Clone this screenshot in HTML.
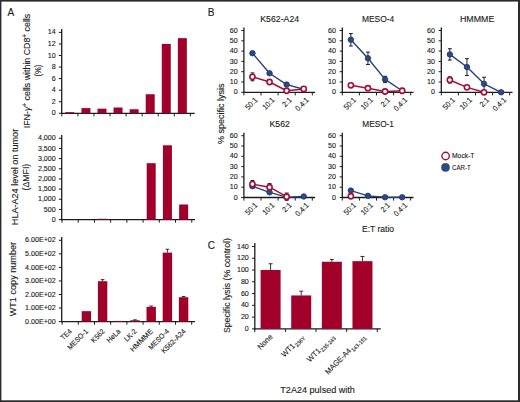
<!DOCTYPE html>
<html><head><meta charset="utf-8"><style>
html,body{margin:0;padding:0;background:#fff;overflow:hidden;}
svg{display:block;}
text{font-family:"Liberation Sans", sans-serif;fill:#1a1a1a;stroke:#1a1a1a;stroke-width:0.12px;}
</style></head><body>
<svg width="520" height="402" viewBox="0 0 520 402">
<rect x="0" y="0" width="520" height="402" fill="#fff"/>
<text transform="translate(7.6,16.1) scale(0.9,1)" font-size="11.2" text-anchor="start">A</text>
<line x1="61.7" y1="29" x2="61.7" y2="113.9" stroke="#1c1c1c" stroke-width="1.3"/>
<line x1="61.1" y1="113.3" x2="194.7" y2="113.3" stroke="#1c1c1c" stroke-width="1.3"/>
<line x1="58.8" y1="113.3" x2="61.7" y2="113.3" stroke="#1c1c1c" stroke-width="1.0"/>
<text transform="translate(55.7,115.4)" font-size="7.1" text-anchor="end">0</text>
<line x1="58.8" y1="101.74" x2="61.7" y2="101.74" stroke="#1c1c1c" stroke-width="1.0"/>
<text transform="translate(55.7,103.84)" font-size="7.1" text-anchor="end">2</text>
<line x1="58.8" y1="90.18" x2="61.7" y2="90.18" stroke="#1c1c1c" stroke-width="1.0"/>
<text transform="translate(55.7,92.28)" font-size="7.1" text-anchor="end">4</text>
<line x1="58.8" y1="78.62" x2="61.7" y2="78.62" stroke="#1c1c1c" stroke-width="1.0"/>
<text transform="translate(55.7,80.72)" font-size="7.1" text-anchor="end">6</text>
<line x1="58.8" y1="67.06" x2="61.7" y2="67.06" stroke="#1c1c1c" stroke-width="1.0"/>
<text transform="translate(55.7,69.16)" font-size="7.1" text-anchor="end">8</text>
<line x1="58.8" y1="55.5" x2="61.7" y2="55.5" stroke="#1c1c1c" stroke-width="1.0"/>
<text transform="translate(55.7,57.6)" font-size="7.1" text-anchor="end">10</text>
<line x1="58.8" y1="43.94" x2="61.7" y2="43.94" stroke="#1c1c1c" stroke-width="1.0"/>
<text transform="translate(55.7,46.04)" font-size="7.1" text-anchor="end">12</text>
<line x1="58.8" y1="32.38" x2="61.7" y2="32.38" stroke="#1c1c1c" stroke-width="1.0"/>
<text transform="translate(55.7,34.48)" font-size="7.1" text-anchor="end">14</text>
<line x1="61.81" y1="113.3" x2="61.81" y2="116.4" stroke="#1c1c1c" stroke-width="1.0"/>
<line x1="77.88" y1="113.3" x2="77.88" y2="116.4" stroke="#1c1c1c" stroke-width="1.0"/>
<line x1="93.95" y1="113.3" x2="93.95" y2="116.4" stroke="#1c1c1c" stroke-width="1.0"/>
<line x1="110.03" y1="113.3" x2="110.03" y2="116.4" stroke="#1c1c1c" stroke-width="1.0"/>
<line x1="126.09" y1="113.3" x2="126.09" y2="116.4" stroke="#1c1c1c" stroke-width="1.0"/>
<line x1="142.16" y1="113.3" x2="142.16" y2="116.4" stroke="#1c1c1c" stroke-width="1.0"/>
<line x1="158.24" y1="113.3" x2="158.24" y2="116.4" stroke="#1c1c1c" stroke-width="1.0"/>
<line x1="174.31" y1="113.3" x2="174.31" y2="116.4" stroke="#1c1c1c" stroke-width="1.0"/>
<line x1="190.38" y1="113.3" x2="190.38" y2="116.4" stroke="#1c1c1c" stroke-width="1.0"/>
<rect x="65.35" y="112.14" width="9" height="1.16" fill="#A1002B"/>
<rect x="81.42" y="108.1" width="9" height="5.2" fill="#A1002B"/>
<rect x="97.49" y="108.68" width="9" height="4.62" fill="#A1002B"/>
<rect x="113.56" y="107.52" width="9" height="5.78" fill="#A1002B"/>
<rect x="129.63" y="109.25" width="9" height="4.05" fill="#A1002B"/>
<rect x="145.7" y="94.23" width="9" height="19.07" fill="#A1002B"/>
<rect x="161.77" y="43.94" width="9" height="69.36" fill="#A1002B"/>
<rect x="177.84" y="38.16" width="9" height="75.14" fill="#A1002B"/>
<line x1="61.7" y1="135" x2="61.7" y2="220.2" stroke="#1c1c1c" stroke-width="1.3"/>
<line x1="61.1" y1="219.6" x2="195" y2="219.6" stroke="#1c1c1c" stroke-width="1.3"/>
<line x1="58.8" y1="219.6" x2="61.7" y2="219.6" stroke="#1c1c1c" stroke-width="1.0"/>
<text transform="translate(55.7,221.7)" font-size="7.1" text-anchor="end">0</text>
<line x1="58.8" y1="209.44" x2="61.7" y2="209.44" stroke="#1c1c1c" stroke-width="1.0"/>
<text transform="translate(55.7,211.53)" font-size="7.1" text-anchor="end">500</text>
<line x1="58.8" y1="199.27" x2="61.7" y2="199.27" stroke="#1c1c1c" stroke-width="1.0"/>
<text transform="translate(55.7,201.37)" font-size="7.1" text-anchor="end">1,000</text>
<line x1="58.8" y1="189.1" x2="61.7" y2="189.1" stroke="#1c1c1c" stroke-width="1.0"/>
<text transform="translate(55.7,191.2)" font-size="7.1" text-anchor="end">1,500</text>
<line x1="58.8" y1="178.94" x2="61.7" y2="178.94" stroke="#1c1c1c" stroke-width="1.0"/>
<text transform="translate(55.7,181.04)" font-size="7.1" text-anchor="end">2,000</text>
<line x1="58.8" y1="168.77" x2="61.7" y2="168.77" stroke="#1c1c1c" stroke-width="1.0"/>
<text transform="translate(55.7,170.87)" font-size="7.1" text-anchor="end">2,500</text>
<line x1="58.8" y1="158.61" x2="61.7" y2="158.61" stroke="#1c1c1c" stroke-width="1.0"/>
<text transform="translate(55.7,160.71)" font-size="7.1" text-anchor="end">3,000</text>
<line x1="58.8" y1="148.44" x2="61.7" y2="148.44" stroke="#1c1c1c" stroke-width="1.0"/>
<text transform="translate(55.7,150.54)" font-size="7.1" text-anchor="end">3,500</text>
<line x1="58.8" y1="138.28" x2="61.7" y2="138.28" stroke="#1c1c1c" stroke-width="1.0"/>
<text transform="translate(55.7,140.38)" font-size="7.1" text-anchor="end">4,000</text>
<line x1="61.99" y1="219.6" x2="61.99" y2="222.7" stroke="#1c1c1c" stroke-width="1.0"/>
<line x1="78.21" y1="219.6" x2="78.21" y2="222.7" stroke="#1c1c1c" stroke-width="1.0"/>
<line x1="94.43" y1="219.6" x2="94.43" y2="222.7" stroke="#1c1c1c" stroke-width="1.0"/>
<line x1="110.65" y1="219.6" x2="110.65" y2="222.7" stroke="#1c1c1c" stroke-width="1.0"/>
<line x1="126.87" y1="219.6" x2="126.87" y2="222.7" stroke="#1c1c1c" stroke-width="1.0"/>
<line x1="143.09" y1="219.6" x2="143.09" y2="222.7" stroke="#1c1c1c" stroke-width="1.0"/>
<line x1="159.31" y1="219.6" x2="159.31" y2="222.7" stroke="#1c1c1c" stroke-width="1.0"/>
<line x1="175.53" y1="219.6" x2="175.53" y2="222.7" stroke="#1c1c1c" stroke-width="1.0"/>
<line x1="191.75" y1="219.6" x2="191.75" y2="222.7" stroke="#1c1c1c" stroke-width="1.0"/>
<rect x="98.04" y="218.79" width="9" height="0.81" fill="#A1002B"/>
<rect x="146.7" y="163.2" width="9" height="56.4" fill="#A1002B"/>
<rect x="162.92" y="145.29" width="9" height="74.31" fill="#A1002B"/>
<rect x="179.14" y="204.49" width="9" height="15.11" fill="#A1002B"/>
<line x1="61.7" y1="237" x2="61.7" y2="322.2" stroke="#1c1c1c" stroke-width="1.3"/>
<line x1="61.1" y1="321.6" x2="195" y2="321.6" stroke="#1c1c1c" stroke-width="1.3"/>
<line x1="58.8" y1="321.6" x2="61.7" y2="321.6" stroke="#1c1c1c" stroke-width="1.0"/>
<text transform="translate(55.7,323.7)" font-size="7.1" text-anchor="end">0.00E+00</text>
<line x1="58.8" y1="308.05" x2="61.7" y2="308.05" stroke="#1c1c1c" stroke-width="1.0"/>
<text transform="translate(55.7,310.15)" font-size="7.1" text-anchor="end">1.00E+02</text>
<line x1="58.8" y1="294.5" x2="61.7" y2="294.5" stroke="#1c1c1c" stroke-width="1.0"/>
<text transform="translate(55.7,296.6)" font-size="7.1" text-anchor="end">2.00E+02</text>
<line x1="58.8" y1="280.95" x2="61.7" y2="280.95" stroke="#1c1c1c" stroke-width="1.0"/>
<text transform="translate(55.7,283.05)" font-size="7.1" text-anchor="end">3.00E+02</text>
<line x1="58.8" y1="267.4" x2="61.7" y2="267.4" stroke="#1c1c1c" stroke-width="1.0"/>
<text transform="translate(55.7,269.5)" font-size="7.1" text-anchor="end">4.00E+02</text>
<line x1="58.8" y1="253.85" x2="61.7" y2="253.85" stroke="#1c1c1c" stroke-width="1.0"/>
<text transform="translate(55.7,255.95)" font-size="7.1" text-anchor="end">5.00E+02</text>
<line x1="58.8" y1="240.3" x2="61.7" y2="240.3" stroke="#1c1c1c" stroke-width="1.0"/>
<text transform="translate(55.7,242.4)" font-size="7.1" text-anchor="end">6.00E+02</text>
<line x1="62.1" y1="321.6" x2="62.1" y2="324.7" stroke="#1c1c1c" stroke-width="1.0"/>
<line x1="78.3" y1="321.6" x2="78.3" y2="324.7" stroke="#1c1c1c" stroke-width="1.0"/>
<line x1="94.5" y1="321.6" x2="94.5" y2="324.7" stroke="#1c1c1c" stroke-width="1.0"/>
<line x1="110.7" y1="321.6" x2="110.7" y2="324.7" stroke="#1c1c1c" stroke-width="1.0"/>
<line x1="126.9" y1="321.6" x2="126.9" y2="324.7" stroke="#1c1c1c" stroke-width="1.0"/>
<line x1="143.1" y1="321.6" x2="143.1" y2="324.7" stroke="#1c1c1c" stroke-width="1.0"/>
<line x1="159.3" y1="321.6" x2="159.3" y2="324.7" stroke="#1c1c1c" stroke-width="1.0"/>
<line x1="175.5" y1="321.6" x2="175.5" y2="324.7" stroke="#1c1c1c" stroke-width="1.0"/>
<line x1="191.7" y1="321.6" x2="191.7" y2="324.7" stroke="#1c1c1c" stroke-width="1.0"/>
<rect x="81.7" y="311.17" width="9.4" height="10.43" fill="#A1002B"/>
<rect x="97.9" y="281.22" width="9.4" height="40.38" fill="#A1002B"/>
<line x1="102.6" y1="281.22" x2="102.6" y2="279.6" stroke="#1c1c1c" stroke-width="0.9"/>
<line x1="100.8" y1="279.6" x2="104.4" y2="279.6" stroke="#1c1c1c" stroke-width="0.9"/>
<rect x="114.1" y="320.92" width="9.4" height="0.68" fill="#A1002B"/>
<rect x="130.3" y="320.25" width="9.4" height="1.35" fill="#A1002B"/>
<line x1="135" y1="320.25" x2="135" y2="319.84" stroke="#1c1c1c" stroke-width="0.9"/>
<line x1="133.2" y1="319.84" x2="136.8" y2="319.84" stroke="#1c1c1c" stroke-width="0.9"/>
<rect x="146.5" y="306.83" width="9.4" height="14.77" fill="#A1002B"/>
<line x1="151.2" y1="306.83" x2="151.2" y2="306.02" stroke="#1c1c1c" stroke-width="0.9"/>
<line x1="149.4" y1="306.02" x2="153" y2="306.02" stroke="#1c1c1c" stroke-width="0.9"/>
<rect x="162.7" y="252.63" width="9.4" height="68.97" fill="#A1002B"/>
<line x1="167.4" y1="252.63" x2="167.4" y2="249.24" stroke="#1c1c1c" stroke-width="0.9"/>
<line x1="165.6" y1="249.24" x2="169.2" y2="249.24" stroke="#1c1c1c" stroke-width="0.9"/>
<rect x="178.9" y="297.21" width="9.4" height="24.39" fill="#A1002B"/>
<line x1="183.6" y1="297.21" x2="183.6" y2="296.53" stroke="#1c1c1c" stroke-width="0.9"/>
<line x1="181.8" y1="296.53" x2="185.4" y2="296.53" stroke="#1c1c1c" stroke-width="0.9"/>
<text transform="translate(30.3,71) rotate(-90)" font-size="8.7" text-anchor="middle" textLength="114.5" lengthAdjust="spacingAndGlyphs">IFN-<tspan font-style="italic">γ</tspan><tspan dy="-3.2" font-size="6.3">+</tspan><tspan dy="3.2"> cells within CD8</tspan><tspan dy="-3.2" font-size="6.3">+</tspan><tspan dy="3.2"> cells</tspan></text>
<text transform="translate(40.8,70.7) rotate(-90)" font-size="8.4" text-anchor="middle" textLength="11.8" lengthAdjust="spacingAndGlyphs">(%)</text>
<text transform="translate(18,177) rotate(-90)" font-size="8.7" text-anchor="middle" textLength="96.3" lengthAdjust="spacingAndGlyphs">HLA-A24 level on tumor</text>
<text transform="translate(29.4,177.1) rotate(-90)" font-size="8.3" text-anchor="middle" textLength="26.6" lengthAdjust="spacingAndGlyphs">(ΔMFI)</text>
<text transform="translate(15.6,279.1) rotate(-90)" font-size="8.7" text-anchor="middle" textLength="74.4" lengthAdjust="spacingAndGlyphs">WT1 copy number</text>
<text transform="translate(72.4,331.8) rotate(-45) scale(0.93,1)" font-size="7.3" text-anchor="end">TE4</text>
<text transform="translate(88.6,331.8) rotate(-45) scale(0.93,1)" font-size="7.3" text-anchor="end">MESO-1</text>
<text transform="translate(105.3,331.8) rotate(-45) scale(0.95,1)" font-size="7.3" text-anchor="end">K562</text>
<text transform="translate(121,331.8) rotate(-45) scale(0.93,1)" font-size="7.3" text-anchor="end">HeLa</text>
<text transform="translate(137.2,331.8) rotate(-45) scale(0.93,1)" font-size="7.3" text-anchor="end">LK-2</text>
<text transform="translate(153.4,331.8) rotate(-45) scale(1.02,1)" font-size="7.3" text-anchor="end">HMMME</text>
<text transform="translate(169.6,331.8) rotate(-45) scale(0.93,1)" font-size="7.3" text-anchor="end">MESO-4</text>
<text transform="translate(186.3,331.8) rotate(-45) scale(0.96,1)" font-size="7.3" text-anchor="end">K562-A24</text>
<text transform="translate(207.8,16.2) scale(0.9,1)" font-size="11.2" text-anchor="start">B</text>
<line x1="243.9" y1="27.6" x2="243.9" y2="92.9" stroke="#1c1c1c" stroke-width="1.3"/>
<line x1="243.3" y1="92.3" x2="315.1" y2="92.3" stroke="#1c1c1c" stroke-width="1.3"/>
<line x1="241.3" y1="92.3" x2="243.9" y2="92.3" stroke="#1c1c1c" stroke-width="1.0"/>
<text transform="translate(237.6,94.4)" font-size="7.1" text-anchor="end">0</text>
<line x1="241.3" y1="82" x2="243.9" y2="82" stroke="#1c1c1c" stroke-width="1.0"/>
<text transform="translate(237.6,84.1)" font-size="7.1" text-anchor="end">10</text>
<line x1="241.3" y1="71.7" x2="243.9" y2="71.7" stroke="#1c1c1c" stroke-width="1.0"/>
<text transform="translate(237.6,73.8)" font-size="7.1" text-anchor="end">20</text>
<line x1="241.3" y1="61.4" x2="243.9" y2="61.4" stroke="#1c1c1c" stroke-width="1.0"/>
<text transform="translate(237.6,63.5)" font-size="7.1" text-anchor="end">30</text>
<line x1="241.3" y1="51.1" x2="243.9" y2="51.1" stroke="#1c1c1c" stroke-width="1.0"/>
<text transform="translate(237.6,53.2)" font-size="7.1" text-anchor="end">40</text>
<line x1="241.3" y1="40.8" x2="243.9" y2="40.8" stroke="#1c1c1c" stroke-width="1.0"/>
<text transform="translate(237.6,42.9)" font-size="7.1" text-anchor="end">50</text>
<line x1="241.3" y1="30.5" x2="243.9" y2="30.5" stroke="#1c1c1c" stroke-width="1.0"/>
<text transform="translate(237.6,32.6)" font-size="7.1" text-anchor="end">60</text>
<line x1="243.9" y1="92.3" x2="243.9" y2="95.4" stroke="#1c1c1c" stroke-width="1.0"/>
<line x1="261" y1="92.3" x2="261" y2="95.4" stroke="#1c1c1c" stroke-width="1.0"/>
<line x1="278.1" y1="92.3" x2="278.1" y2="95.4" stroke="#1c1c1c" stroke-width="1.0"/>
<line x1="295.2" y1="92.3" x2="295.2" y2="95.4" stroke="#1c1c1c" stroke-width="1.0"/>
<line x1="312.3" y1="92.3" x2="312.3" y2="95.4" stroke="#1c1c1c" stroke-width="1.0"/>
<text transform="translate(279.7,21.8)" font-size="8.9" text-anchor="middle" textLength="38.9" lengthAdjust="spacingAndGlyphs">K562-A24</text>
<text transform="translate(258.05,100.5) rotate(-45) scale(0.93,1)" font-size="7.6" text-anchor="end">50:1</text>
<text transform="translate(275.15,100.5) rotate(-45) scale(0.93,1)" font-size="7.6" text-anchor="end">10:1</text>
<text transform="translate(292.25,100.5) rotate(-45) scale(0.93,1)" font-size="7.6" text-anchor="end">2:1</text>
<text transform="translate(309.35,100.5) rotate(-45) scale(0.93,1)" font-size="7.6" text-anchor="end">0.4:1</text>
<line x1="252.45" y1="51.61" x2="252.45" y2="54.7" stroke="#222" stroke-width="1.0"/>
<line x1="250.55" y1="51.61" x2="254.35" y2="51.61" stroke="#222" stroke-width="1.1"/>
<line x1="250.55" y1="54.7" x2="254.35" y2="54.7" stroke="#222" stroke-width="1.1"/>
<line x1="269.55" y1="72.01" x2="269.55" y2="74.48" stroke="#222" stroke-width="1.0"/>
<line x1="267.65" y1="72.01" x2="271.45" y2="72.01" stroke="#222" stroke-width="1.1"/>
<line x1="267.65" y1="74.48" x2="271.45" y2="74.48" stroke="#222" stroke-width="1.1"/>
<line x1="286.65" y1="83.55" x2="286.65" y2="85.61" stroke="#222" stroke-width="1.0"/>
<line x1="284.75" y1="83.55" x2="288.55" y2="83.55" stroke="#222" stroke-width="1.1"/>
<line x1="284.75" y1="85.61" x2="288.55" y2="85.61" stroke="#222" stroke-width="1.1"/>
<line x1="252.45" y1="72.94" x2="252.45" y2="80.76" stroke="#222" stroke-width="1.0"/>
<line x1="250.55" y1="72.94" x2="254.35" y2="72.94" stroke="#222" stroke-width="1.1"/>
<line x1="250.55" y1="80.76" x2="254.35" y2="80.76" stroke="#222" stroke-width="1.1"/>
<polyline points="252.45,53.16 269.55,73.25 286.65,84.58 303.75,89.21" fill="none" stroke="#23427F" stroke-width="1.4" stroke-linejoin="round"/>
<circle cx="252.45" cy="53.16" r="2.75" fill="#2C4A82" stroke="#1B3670" stroke-width="0.8"/>
<circle cx="269.55" cy="73.25" r="2.75" fill="#2C4A82" stroke="#1B3670" stroke-width="0.8"/>
<circle cx="286.65" cy="84.58" r="2.75" fill="#2C4A82" stroke="#1B3670" stroke-width="0.8"/>
<circle cx="303.75" cy="89.21" r="2.75" fill="#2C4A82" stroke="#1B3670" stroke-width="0.8"/>
<polyline points="252.45,76.85 269.55,82 286.65,90.75 303.75,88.9" fill="none" stroke="#A80F38" stroke-width="1.5" stroke-linejoin="round"/>
<circle cx="252.45" cy="76.85" r="2.6" fill="#fff" stroke="#A80F38" stroke-width="1.6"/>
<circle cx="269.55" cy="82" r="2.6" fill="#fff" stroke="#A80F38" stroke-width="1.6"/>
<circle cx="286.65" cy="90.75" r="2.6" fill="#fff" stroke="#A80F38" stroke-width="1.6"/>
<circle cx="303.75" cy="88.9" r="2.6" fill="#fff" stroke="#A80F38" stroke-width="1.6"/>
<line x1="342.3" y1="27.6" x2="342.3" y2="92.9" stroke="#1c1c1c" stroke-width="1.3"/>
<line x1="341.7" y1="92.3" x2="413.5" y2="92.3" stroke="#1c1c1c" stroke-width="1.3"/>
<line x1="339.7" y1="92.3" x2="342.3" y2="92.3" stroke="#1c1c1c" stroke-width="1.0"/>
<text transform="translate(336,94.4)" font-size="7.1" text-anchor="end">0</text>
<line x1="339.7" y1="82" x2="342.3" y2="82" stroke="#1c1c1c" stroke-width="1.0"/>
<text transform="translate(336,84.1)" font-size="7.1" text-anchor="end">10</text>
<line x1="339.7" y1="71.7" x2="342.3" y2="71.7" stroke="#1c1c1c" stroke-width="1.0"/>
<text transform="translate(336,73.8)" font-size="7.1" text-anchor="end">20</text>
<line x1="339.7" y1="61.4" x2="342.3" y2="61.4" stroke="#1c1c1c" stroke-width="1.0"/>
<text transform="translate(336,63.5)" font-size="7.1" text-anchor="end">30</text>
<line x1="339.7" y1="51.1" x2="342.3" y2="51.1" stroke="#1c1c1c" stroke-width="1.0"/>
<text transform="translate(336,53.2)" font-size="7.1" text-anchor="end">40</text>
<line x1="339.7" y1="40.8" x2="342.3" y2="40.8" stroke="#1c1c1c" stroke-width="1.0"/>
<text transform="translate(336,42.9)" font-size="7.1" text-anchor="end">50</text>
<line x1="339.7" y1="30.5" x2="342.3" y2="30.5" stroke="#1c1c1c" stroke-width="1.0"/>
<text transform="translate(336,32.6)" font-size="7.1" text-anchor="end">60</text>
<line x1="342.3" y1="92.3" x2="342.3" y2="95.4" stroke="#1c1c1c" stroke-width="1.0"/>
<line x1="359.4" y1="92.3" x2="359.4" y2="95.4" stroke="#1c1c1c" stroke-width="1.0"/>
<line x1="376.5" y1="92.3" x2="376.5" y2="95.4" stroke="#1c1c1c" stroke-width="1.0"/>
<line x1="393.6" y1="92.3" x2="393.6" y2="95.4" stroke="#1c1c1c" stroke-width="1.0"/>
<line x1="410.7" y1="92.3" x2="410.7" y2="95.4" stroke="#1c1c1c" stroke-width="1.0"/>
<text transform="translate(378.1,21.8)" font-size="8.9" text-anchor="middle" textLength="32.4" lengthAdjust="spacingAndGlyphs">MESO-4</text>
<text transform="translate(356.45,100.5) rotate(-45) scale(0.93,1)" font-size="7.6" text-anchor="end">50:1</text>
<text transform="translate(373.55,100.5) rotate(-45) scale(0.93,1)" font-size="7.6" text-anchor="end">10:1</text>
<text transform="translate(390.65,100.5) rotate(-45) scale(0.93,1)" font-size="7.6" text-anchor="end">2:1</text>
<text transform="translate(407.75,100.5) rotate(-45) scale(0.93,1)" font-size="7.6" text-anchor="end">0.4:1</text>
<line x1="350.85" y1="33.59" x2="350.85" y2="45.95" stroke="#222" stroke-width="1.0"/>
<line x1="348.95" y1="33.59" x2="352.75" y2="33.59" stroke="#222" stroke-width="1.1"/>
<line x1="348.95" y1="45.95" x2="352.75" y2="45.95" stroke="#222" stroke-width="1.1"/>
<line x1="367.95" y1="52.13" x2="367.95" y2="64.49" stroke="#222" stroke-width="1.0"/>
<line x1="366.05" y1="52.13" x2="369.85" y2="52.13" stroke="#222" stroke-width="1.1"/>
<line x1="366.05" y1="64.49" x2="369.85" y2="64.49" stroke="#222" stroke-width="1.1"/>
<line x1="385.05" y1="76.33" x2="385.05" y2="82.52" stroke="#222" stroke-width="1.0"/>
<line x1="383.15" y1="76.33" x2="386.95" y2="76.33" stroke="#222" stroke-width="1.1"/>
<line x1="383.15" y1="82.52" x2="386.95" y2="82.52" stroke="#222" stroke-width="1.1"/>
<polyline points="350.85,39.77 367.95,58.31 385.05,79.42 402.15,90.75" fill="none" stroke="#23427F" stroke-width="1.4" stroke-linejoin="round"/>
<circle cx="350.85" cy="39.77" r="2.75" fill="#2C4A82" stroke="#1B3670" stroke-width="0.8"/>
<circle cx="367.95" cy="58.31" r="2.75" fill="#2C4A82" stroke="#1B3670" stroke-width="0.8"/>
<circle cx="385.05" cy="79.42" r="2.75" fill="#2C4A82" stroke="#1B3670" stroke-width="0.8"/>
<circle cx="402.15" cy="90.75" r="2.75" fill="#2C4A82" stroke="#1B3670" stroke-width="0.8"/>
<polyline points="350.85,85.3 367.95,88.18 385.05,91.48 402.15,90.75" fill="none" stroke="#A80F38" stroke-width="1.5" stroke-linejoin="round"/>
<circle cx="350.85" cy="85.3" r="2.6" fill="#fff" stroke="#A80F38" stroke-width="1.6"/>
<circle cx="367.95" cy="88.18" r="2.6" fill="#fff" stroke="#A80F38" stroke-width="1.6"/>
<circle cx="385.05" cy="91.48" r="2.6" fill="#fff" stroke="#A80F38" stroke-width="1.6"/>
<circle cx="402.15" cy="90.75" r="2.6" fill="#fff" stroke="#A80F38" stroke-width="1.6"/>
<line x1="441.3" y1="27.6" x2="441.3" y2="92.9" stroke="#1c1c1c" stroke-width="1.3"/>
<line x1="440.7" y1="92.3" x2="512.5" y2="92.3" stroke="#1c1c1c" stroke-width="1.3"/>
<line x1="438.7" y1="92.3" x2="441.3" y2="92.3" stroke="#1c1c1c" stroke-width="1.0"/>
<text transform="translate(435,94.4)" font-size="7.1" text-anchor="end">0</text>
<line x1="438.7" y1="82" x2="441.3" y2="82" stroke="#1c1c1c" stroke-width="1.0"/>
<text transform="translate(435,84.1)" font-size="7.1" text-anchor="end">10</text>
<line x1="438.7" y1="71.7" x2="441.3" y2="71.7" stroke="#1c1c1c" stroke-width="1.0"/>
<text transform="translate(435,73.8)" font-size="7.1" text-anchor="end">20</text>
<line x1="438.7" y1="61.4" x2="441.3" y2="61.4" stroke="#1c1c1c" stroke-width="1.0"/>
<text transform="translate(435,63.5)" font-size="7.1" text-anchor="end">30</text>
<line x1="438.7" y1="51.1" x2="441.3" y2="51.1" stroke="#1c1c1c" stroke-width="1.0"/>
<text transform="translate(435,53.2)" font-size="7.1" text-anchor="end">40</text>
<line x1="438.7" y1="40.8" x2="441.3" y2="40.8" stroke="#1c1c1c" stroke-width="1.0"/>
<text transform="translate(435,42.9)" font-size="7.1" text-anchor="end">50</text>
<line x1="438.7" y1="30.5" x2="441.3" y2="30.5" stroke="#1c1c1c" stroke-width="1.0"/>
<text transform="translate(435,32.6)" font-size="7.1" text-anchor="end">60</text>
<line x1="441.3" y1="92.3" x2="441.3" y2="95.4" stroke="#1c1c1c" stroke-width="1.0"/>
<line x1="458.4" y1="92.3" x2="458.4" y2="95.4" stroke="#1c1c1c" stroke-width="1.0"/>
<line x1="475.5" y1="92.3" x2="475.5" y2="95.4" stroke="#1c1c1c" stroke-width="1.0"/>
<line x1="492.6" y1="92.3" x2="492.6" y2="95.4" stroke="#1c1c1c" stroke-width="1.0"/>
<line x1="509.7" y1="92.3" x2="509.7" y2="95.4" stroke="#1c1c1c" stroke-width="1.0"/>
<text transform="translate(477.1,21.8)" font-size="8.9" text-anchor="middle" textLength="34.4" lengthAdjust="spacingAndGlyphs">HMMME</text>
<text transform="translate(455.45,100.5) rotate(-45) scale(0.93,1)" font-size="7.6" text-anchor="end">50:1</text>
<text transform="translate(472.55,100.5) rotate(-45) scale(0.93,1)" font-size="7.6" text-anchor="end">10:1</text>
<text transform="translate(489.65,100.5) rotate(-45) scale(0.93,1)" font-size="7.6" text-anchor="end">2:1</text>
<text transform="translate(506.75,100.5) rotate(-45) scale(0.93,1)" font-size="7.6" text-anchor="end">0.4:1</text>
<line x1="449.85" y1="48.73" x2="449.85" y2="60.06" stroke="#222" stroke-width="1.0"/>
<line x1="447.95" y1="48.73" x2="451.75" y2="48.73" stroke="#222" stroke-width="1.1"/>
<line x1="447.95" y1="60.06" x2="451.75" y2="60.06" stroke="#222" stroke-width="1.1"/>
<line x1="466.95" y1="58.62" x2="466.95" y2="75.51" stroke="#222" stroke-width="1.0"/>
<line x1="465.05" y1="58.62" x2="468.85" y2="58.62" stroke="#222" stroke-width="1.1"/>
<line x1="465.05" y1="75.51" x2="468.85" y2="75.51" stroke="#222" stroke-width="1.1"/>
<line x1="484.05" y1="77.26" x2="484.05" y2="90.45" stroke="#222" stroke-width="1.0"/>
<line x1="482.15" y1="77.26" x2="485.95" y2="77.26" stroke="#222" stroke-width="1.1"/>
<line x1="482.15" y1="90.45" x2="485.95" y2="90.45" stroke="#222" stroke-width="1.1"/>
<line x1="449.85" y1="76.85" x2="449.85" y2="83.03" stroke="#222" stroke-width="1.0"/>
<line x1="447.95" y1="76.85" x2="451.75" y2="76.85" stroke="#222" stroke-width="1.1"/>
<line x1="447.95" y1="83.03" x2="451.75" y2="83.03" stroke="#222" stroke-width="1.1"/>
<line x1="466.95" y1="85.3" x2="466.95" y2="89.42" stroke="#222" stroke-width="1.0"/>
<line x1="465.05" y1="85.3" x2="468.85" y2="85.3" stroke="#222" stroke-width="1.1"/>
<line x1="465.05" y1="89.42" x2="468.85" y2="89.42" stroke="#222" stroke-width="1.1"/>
<polyline points="449.85,79.94 466.95,87.36 484.05,92.3" fill="none" stroke="#A80F38" stroke-width="1.5" stroke-linejoin="round"/>
<circle cx="449.85" cy="79.94" r="2.6" fill="#fff" stroke="#A80F38" stroke-width="1.6"/>
<circle cx="466.95" cy="87.36" r="2.6" fill="#fff" stroke="#A80F38" stroke-width="1.6"/>
<circle cx="484.05" cy="92.3" r="2.6" fill="#fff" stroke="#A80F38" stroke-width="1.6"/>
<polyline points="449.85,54.4 466.95,67.06 484.05,83.85 501.15,92.3" fill="none" stroke="#23427F" stroke-width="1.4" stroke-linejoin="round"/>
<circle cx="449.85" cy="54.4" r="2.75" fill="#2C4A82" stroke="#1B3670" stroke-width="0.8"/>
<circle cx="466.95" cy="67.06" r="2.75" fill="#2C4A82" stroke="#1B3670" stroke-width="0.8"/>
<circle cx="484.05" cy="83.85" r="2.75" fill="#2C4A82" stroke="#1B3670" stroke-width="0.8"/>
<circle cx="501.15" cy="92.3" r="2.75" fill="#2C4A82" stroke="#1B3670" stroke-width="0.8"/>
<line x1="243.9" y1="132.8" x2="243.9" y2="198.1" stroke="#1c1c1c" stroke-width="1.3"/>
<line x1="243.3" y1="197.5" x2="315.1" y2="197.5" stroke="#1c1c1c" stroke-width="1.3"/>
<line x1="241.3" y1="197.5" x2="243.9" y2="197.5" stroke="#1c1c1c" stroke-width="1.0"/>
<text transform="translate(237.6,199.6)" font-size="7.1" text-anchor="end">0</text>
<line x1="241.3" y1="187.2" x2="243.9" y2="187.2" stroke="#1c1c1c" stroke-width="1.0"/>
<text transform="translate(237.6,189.3)" font-size="7.1" text-anchor="end">10</text>
<line x1="241.3" y1="176.9" x2="243.9" y2="176.9" stroke="#1c1c1c" stroke-width="1.0"/>
<text transform="translate(237.6,179)" font-size="7.1" text-anchor="end">20</text>
<line x1="241.3" y1="166.6" x2="243.9" y2="166.6" stroke="#1c1c1c" stroke-width="1.0"/>
<text transform="translate(237.6,168.7)" font-size="7.1" text-anchor="end">30</text>
<line x1="241.3" y1="156.3" x2="243.9" y2="156.3" stroke="#1c1c1c" stroke-width="1.0"/>
<text transform="translate(237.6,158.4)" font-size="7.1" text-anchor="end">40</text>
<line x1="241.3" y1="146" x2="243.9" y2="146" stroke="#1c1c1c" stroke-width="1.0"/>
<text transform="translate(237.6,148.1)" font-size="7.1" text-anchor="end">50</text>
<line x1="241.3" y1="135.7" x2="243.9" y2="135.7" stroke="#1c1c1c" stroke-width="1.0"/>
<text transform="translate(237.6,137.8)" font-size="7.1" text-anchor="end">60</text>
<line x1="243.9" y1="197.5" x2="243.9" y2="200.6" stroke="#1c1c1c" stroke-width="1.0"/>
<line x1="261" y1="197.5" x2="261" y2="200.6" stroke="#1c1c1c" stroke-width="1.0"/>
<line x1="278.1" y1="197.5" x2="278.1" y2="200.6" stroke="#1c1c1c" stroke-width="1.0"/>
<line x1="295.2" y1="197.5" x2="295.2" y2="200.6" stroke="#1c1c1c" stroke-width="1.0"/>
<line x1="312.3" y1="197.5" x2="312.3" y2="200.6" stroke="#1c1c1c" stroke-width="1.0"/>
<text transform="translate(279.7,127)" font-size="8.9" text-anchor="middle" textLength="20.3" lengthAdjust="spacingAndGlyphs">K562</text>
<text transform="translate(258.05,205.7) rotate(-45) scale(0.93,1)" font-size="7.6" text-anchor="end">50:1</text>
<text transform="translate(275.15,205.7) rotate(-45) scale(0.93,1)" font-size="7.6" text-anchor="end">10:1</text>
<text transform="translate(292.25,205.7) rotate(-45) scale(0.93,1)" font-size="7.6" text-anchor="end">2:1</text>
<text transform="translate(309.35,205.7) rotate(-45) scale(0.93,1)" font-size="7.6" text-anchor="end">0.4:1</text>
<line x1="252.45" y1="180.51" x2="252.45" y2="187.72" stroke="#222" stroke-width="1.0"/>
<line x1="250.55" y1="180.51" x2="254.35" y2="180.51" stroke="#222" stroke-width="1.1"/>
<line x1="250.55" y1="187.72" x2="254.35" y2="187.72" stroke="#222" stroke-width="1.1"/>
<line x1="269.55" y1="183.59" x2="269.55" y2="190.8" stroke="#222" stroke-width="1.0"/>
<line x1="267.65" y1="183.59" x2="271.45" y2="183.59" stroke="#222" stroke-width="1.1"/>
<line x1="267.65" y1="190.8" x2="271.45" y2="190.8" stroke="#222" stroke-width="1.1"/>
<line x1="286.65" y1="193.07" x2="286.65" y2="200.28" stroke="#222" stroke-width="1.0"/>
<line x1="284.75" y1="193.07" x2="288.55" y2="193.07" stroke="#222" stroke-width="1.1"/>
<line x1="284.75" y1="200.28" x2="288.55" y2="200.28" stroke="#222" stroke-width="1.1"/>
<polyline points="252.45,186.17 269.55,192.35 286.65,197.19 303.75,196.47" fill="none" stroke="#23427F" stroke-width="1.4" stroke-linejoin="round"/>
<circle cx="252.45" cy="186.17" r="2.75" fill="#2C4A82" stroke="#1B3670" stroke-width="0.8"/>
<circle cx="269.55" cy="192.35" r="2.75" fill="#2C4A82" stroke="#1B3670" stroke-width="0.8"/>
<circle cx="286.65" cy="197.19" r="2.75" fill="#2C4A82" stroke="#1B3670" stroke-width="0.8"/>
<circle cx="303.75" cy="196.47" r="2.75" fill="#2C4A82" stroke="#1B3670" stroke-width="0.8"/>
<polyline points="252.45,184.11 269.55,187.2 286.65,196.68" fill="none" stroke="#A80F38" stroke-width="1.5" stroke-linejoin="round"/>
<circle cx="252.45" cy="184.11" r="2.6" fill="#fff" stroke="#A80F38" stroke-width="1.6"/>
<circle cx="269.55" cy="187.2" r="2.6" fill="#fff" stroke="#A80F38" stroke-width="1.6"/>
<circle cx="286.65" cy="196.68" r="2.6" fill="#fff" stroke="#A80F38" stroke-width="1.6"/>
<line x1="342.3" y1="132.8" x2="342.3" y2="198.1" stroke="#1c1c1c" stroke-width="1.3"/>
<line x1="341.7" y1="197.5" x2="413.5" y2="197.5" stroke="#1c1c1c" stroke-width="1.3"/>
<line x1="339.7" y1="197.5" x2="342.3" y2="197.5" stroke="#1c1c1c" stroke-width="1.0"/>
<text transform="translate(336,199.6)" font-size="7.1" text-anchor="end">0</text>
<line x1="339.7" y1="187.2" x2="342.3" y2="187.2" stroke="#1c1c1c" stroke-width="1.0"/>
<text transform="translate(336,189.3)" font-size="7.1" text-anchor="end">10</text>
<line x1="339.7" y1="176.9" x2="342.3" y2="176.9" stroke="#1c1c1c" stroke-width="1.0"/>
<text transform="translate(336,179)" font-size="7.1" text-anchor="end">20</text>
<line x1="339.7" y1="166.6" x2="342.3" y2="166.6" stroke="#1c1c1c" stroke-width="1.0"/>
<text transform="translate(336,168.7)" font-size="7.1" text-anchor="end">30</text>
<line x1="339.7" y1="156.3" x2="342.3" y2="156.3" stroke="#1c1c1c" stroke-width="1.0"/>
<text transform="translate(336,158.4)" font-size="7.1" text-anchor="end">40</text>
<line x1="339.7" y1="146" x2="342.3" y2="146" stroke="#1c1c1c" stroke-width="1.0"/>
<text transform="translate(336,148.1)" font-size="7.1" text-anchor="end">50</text>
<line x1="339.7" y1="135.7" x2="342.3" y2="135.7" stroke="#1c1c1c" stroke-width="1.0"/>
<text transform="translate(336,137.8)" font-size="7.1" text-anchor="end">60</text>
<line x1="342.3" y1="197.5" x2="342.3" y2="200.6" stroke="#1c1c1c" stroke-width="1.0"/>
<line x1="359.4" y1="197.5" x2="359.4" y2="200.6" stroke="#1c1c1c" stroke-width="1.0"/>
<line x1="376.5" y1="197.5" x2="376.5" y2="200.6" stroke="#1c1c1c" stroke-width="1.0"/>
<line x1="393.6" y1="197.5" x2="393.6" y2="200.6" stroke="#1c1c1c" stroke-width="1.0"/>
<line x1="410.7" y1="197.5" x2="410.7" y2="200.6" stroke="#1c1c1c" stroke-width="1.0"/>
<text transform="translate(378.1,127)" font-size="8.9" text-anchor="middle" textLength="31.6" lengthAdjust="spacingAndGlyphs">MESO-1</text>
<text transform="translate(356.45,205.7) rotate(-45) scale(0.93,1)" font-size="7.6" text-anchor="end">50:1</text>
<text transform="translate(373.55,205.7) rotate(-45) scale(0.93,1)" font-size="7.6" text-anchor="end">10:1</text>
<text transform="translate(390.65,205.7) rotate(-45) scale(0.93,1)" font-size="7.6" text-anchor="end">2:1</text>
<text transform="translate(407.75,205.7) rotate(-45) scale(0.93,1)" font-size="7.6" text-anchor="end">0.4:1</text>
<polyline points="350.85,190.6 367.95,195.85 385.05,197.29 402.15,197.29" fill="none" stroke="#23427F" stroke-width="1.4" stroke-linejoin="round"/>
<circle cx="350.85" cy="190.6" r="2.75" fill="#2C4A82" stroke="#1B3670" stroke-width="0.8"/>
<circle cx="367.95" cy="195.85" r="2.75" fill="#2C4A82" stroke="#1B3670" stroke-width="0.8"/>
<circle cx="385.05" cy="197.29" r="2.75" fill="#2C4A82" stroke="#1B3670" stroke-width="0.8"/>
<circle cx="402.15" cy="197.29" r="2.75" fill="#2C4A82" stroke="#1B3670" stroke-width="0.8"/>
<polyline points="350.85,196.26" fill="none" stroke="#A80F38" stroke-width="1.5" stroke-linejoin="round"/>
<circle cx="350.85" cy="196.26" r="2.6" fill="#fff" stroke="#A80F38" stroke-width="1.6"/>
<text transform="translate(223.8,113.75) rotate(-90)" font-size="8.8" text-anchor="middle" textLength="60.6" lengthAdjust="spacingAndGlyphs">% specific lysis</text>
<text transform="translate(378,232) scale(0.98,1)" font-size="8.7" text-anchor="middle">E:T ratio</text>
<circle cx="445.6" cy="156" r="3.7" fill="#fff" stroke="#A80F38" stroke-width="1.4"/>
<circle cx="445.5" cy="167.4" r="4.1" fill="#2C4A82" stroke="#1B3670" stroke-width="0.4"/>
<text transform="translate(452,158.2) scale(0.94,1)" font-size="7.2" text-anchor="start">Mock-T</text>
<text transform="translate(452,169.6)" font-size="7.2" text-anchor="start" textLength="18.8" lengthAdjust="spacingAndGlyphs">CAR-T</text>
<text transform="translate(207.8,249) scale(0.9,1)" font-size="11.2" text-anchor="start">C</text>
<line x1="254.8" y1="243.1" x2="254.8" y2="329.5" stroke="#1c1c1c" stroke-width="1.3"/>
<line x1="254.2" y1="328.9" x2="380.8" y2="328.9" stroke="#1c1c1c" stroke-width="1.3"/>
<line x1="252" y1="328.9" x2="254.8" y2="328.9" stroke="#1c1c1c" stroke-width="1.0"/>
<text transform="translate(248.8,331)" font-size="7.1" text-anchor="end">0</text>
<line x1="252" y1="317.12" x2="254.8" y2="317.12" stroke="#1c1c1c" stroke-width="1.0"/>
<text transform="translate(248.8,319.22)" font-size="7.1" text-anchor="end">20</text>
<line x1="252" y1="305.34" x2="254.8" y2="305.34" stroke="#1c1c1c" stroke-width="1.0"/>
<text transform="translate(248.8,307.44)" font-size="7.1" text-anchor="end">40</text>
<line x1="252" y1="293.56" x2="254.8" y2="293.56" stroke="#1c1c1c" stroke-width="1.0"/>
<text transform="translate(248.8,295.66)" font-size="7.1" text-anchor="end">60</text>
<line x1="252" y1="281.78" x2="254.8" y2="281.78" stroke="#1c1c1c" stroke-width="1.0"/>
<text transform="translate(248.8,283.88)" font-size="7.1" text-anchor="end">80</text>
<line x1="252" y1="270" x2="254.8" y2="270" stroke="#1c1c1c" stroke-width="1.0"/>
<text transform="translate(248.8,272.1)" font-size="7.1" text-anchor="end">100</text>
<line x1="252" y1="258.22" x2="254.8" y2="258.22" stroke="#1c1c1c" stroke-width="1.0"/>
<text transform="translate(248.8,260.32)" font-size="7.1" text-anchor="end">120</text>
<line x1="252" y1="246.44" x2="254.8" y2="246.44" stroke="#1c1c1c" stroke-width="1.0"/>
<text transform="translate(248.8,248.54)" font-size="7.1" text-anchor="end">140</text>
<line x1="254.8" y1="328.9" x2="254.8" y2="332" stroke="#1c1c1c" stroke-width="1.0"/>
<line x1="285.42" y1="328.9" x2="285.42" y2="332" stroke="#1c1c1c" stroke-width="1.0"/>
<line x1="316.04" y1="328.9" x2="316.04" y2="332" stroke="#1c1c1c" stroke-width="1.0"/>
<line x1="346.66" y1="328.9" x2="346.66" y2="332" stroke="#1c1c1c" stroke-width="1.0"/>
<line x1="377.28" y1="328.9" x2="377.28" y2="332" stroke="#1c1c1c" stroke-width="1.0"/>
<rect x="260.6" y="270" width="20" height="58.9" fill="#A1002B"/>
<line x1="270.6" y1="270" x2="270.6" y2="263.76" stroke="#1c1c1c" stroke-width="0.9"/>
<line x1="268.6" y1="263.76" x2="272.6" y2="263.76" stroke="#1c1c1c" stroke-width="0.9"/>
<rect x="291.22" y="295.44" width="20" height="33.46" fill="#A1002B"/>
<line x1="301.22" y1="295.44" x2="301.22" y2="291.15" stroke="#1c1c1c" stroke-width="0.9"/>
<line x1="299.22" y1="291.15" x2="303.22" y2="291.15" stroke="#1c1c1c" stroke-width="0.9"/>
<rect x="321.84" y="261.75" width="20" height="67.15" fill="#A1002B"/>
<line x1="331.84" y1="261.75" x2="331.84" y2="259.4" stroke="#1c1c1c" stroke-width="0.9"/>
<line x1="329.84" y1="259.4" x2="333.84" y2="259.4" stroke="#1c1c1c" stroke-width="0.9"/>
<rect x="352.46" y="261.16" width="20" height="67.73" fill="#A1002B"/>
<line x1="362.46" y1="261.16" x2="362.46" y2="256.45" stroke="#1c1c1c" stroke-width="0.9"/>
<line x1="360.46" y1="256.45" x2="364.46" y2="256.45" stroke="#1c1c1c" stroke-width="0.9"/>
<text transform="translate(230.2,285.6) rotate(-90)" font-size="8.8" text-anchor="middle" textLength="95" lengthAdjust="spacingAndGlyphs">Specific lysis (% control)</text>
<text transform="translate(273.1,337.4) rotate(-45) scale(0.95,1)" font-size="7.8" text-anchor="end">None</text>
<text transform="translate(304.52,337.4) rotate(-45) scale(0.95,1)" font-size="7.8" text-anchor="end">WT1<tspan dy="1.8" font-size="5.5" dx="0.7">236Y</tspan></text>
<text transform="translate(335.14,337.4) rotate(-45) scale(0.95,1)" font-size="7.8" text-anchor="end">WT1<tspan dy="1.8" font-size="5.5" dx="0.7">235-243</tspan></text>
<text transform="translate(365.76,337.4) rotate(-45) scale(0.95,1)" font-size="7.8" text-anchor="end">MAGE-A4<tspan dy="1.8" font-size="5.5" dx="0.7">143-151</tspan></text>
<text transform="translate(317.6,393.3)" font-size="9" text-anchor="middle" textLength="74.6" lengthAdjust="spacingAndGlyphs">T2A24 pulsed with</text>
<rect x="0" y="0" width="520" height="1.6" fill="#2a2a2a"/>
<rect x="0" y="0" width="1.4" height="402" fill="#2a2a2a"/>
<rect x="518" y="0" width="2" height="402" fill="#2a2a2a"/>
<rect x="0" y="400.3" width="520" height="1.7" fill="#2a2a2a"/>
</svg>
</body></html>
